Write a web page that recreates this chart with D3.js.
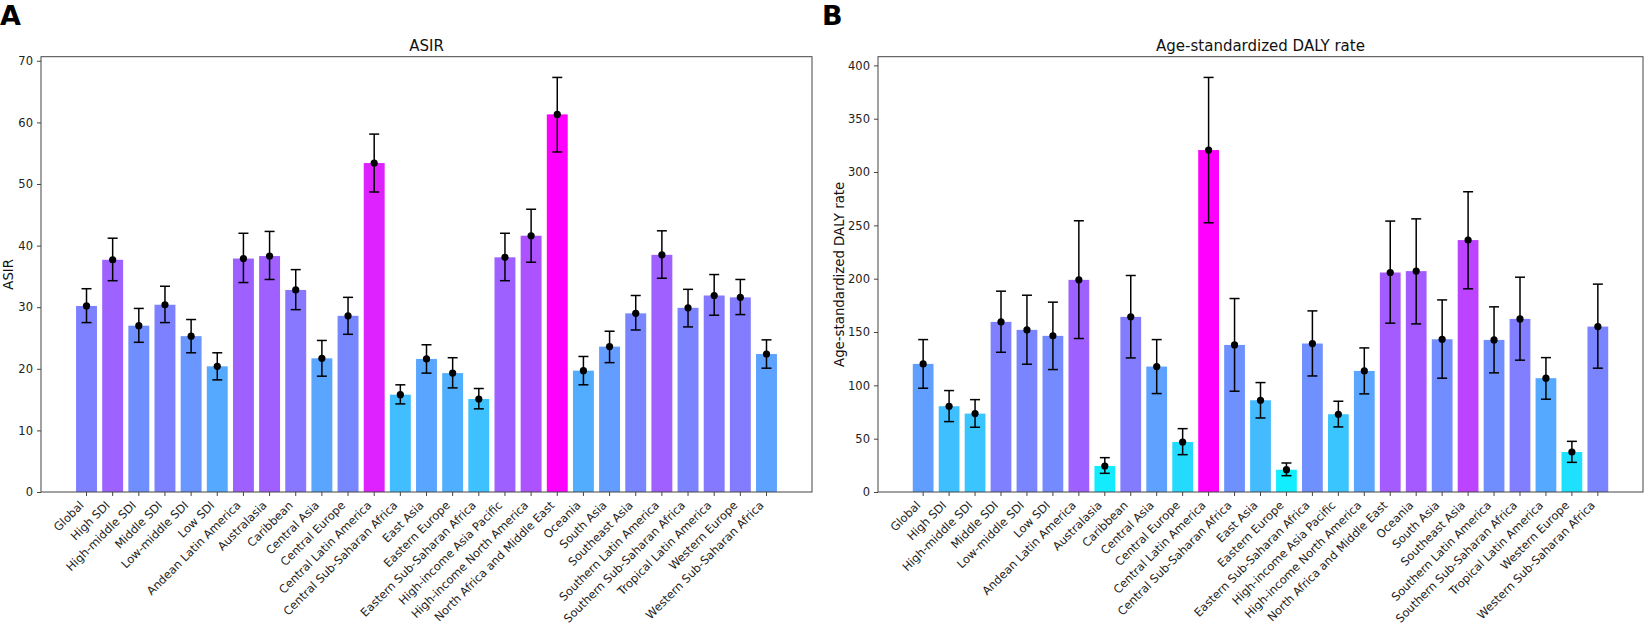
<!DOCTYPE html>
<html>
<head>
<meta charset="utf-8">
<script src="https://cdn.jsdelivr.net/npm/d3@7"></script>
<style>
  body { margin: 0; background: #fff; }
  svg { font-family: "DejaVu Sans", sans-serif; }
</style>
</head>
<body>
<div id="viz"></div>
<script>
(function() {
  var categories = ["Global", "High SDI", "High-middle SDI", "Middle SDI", "Low-middle SDI", "Low SDI",
    "Andean Latin America", "Australasia", "Caribbean", "Central Asia", "Central Europe",
    "Central Latin America", "Central Sub-Saharan Africa", "East Asia", "Eastern Europe",
    "Eastern Sub-Saharan Africa", "High-income Asia Pacific", "High-income North America",
    "North Africa and Middle East", "Oceania", "South Asia", "Southeast Asia",
    "Southern Latin America", "Southern Sub-Saharan Africa", "Tropical Latin America",
    "Western Europe", "Western Sub-Saharan Africa"];

  var asir = [30.2, 37.7, 27.0, 30.4, 25.3, 20.4, 37.9, 38.3, 32.8, 21.7, 28.6, 53.4, 15.8, 21.6,
    19.3, 15.1, 38.1, 41.6, 61.3, 19.7, 23.6, 29.0, 38.5, 29.9, 31.9, 31.6, 22.4];
  var asirLow = [27.5, 34.3, 24.3, 27.5, 22.6, 18.2, 34.0, 34.5, 29.6, 18.8, 25.6, 48.7, 14.3, 19.3,
    16.9, 13.5, 34.3, 37.3, 55.2, 17.4, 21.0, 26.3, 34.7, 26.8, 28.7, 28.8, 20.1];
  var asirHigh = [33.0, 41.2, 29.8, 33.4, 28.0, 22.6, 42.0, 42.3, 36.1, 24.6, 31.6, 58.1, 17.4, 23.9,
    21.8, 16.8, 42.0, 45.9, 67.3, 22.0, 26.1, 31.9, 42.4, 32.9, 35.3, 34.5, 24.7];

  var daly = [120.1, 80.4, 73.5, 159.5, 152.0, 146.4, 198.9, 24.4, 164.2, 117.6, 46.9, 320.6, 137.9,
    86.0, 20.9, 139.2, 72.9, 113.5, 205.8, 207.1, 143.2, 236.2, 142.6, 162.3, 106.7, 37.5, 155.1];
  var dalyLow = [97.3, 66.0, 60.7, 131.0, 119.8, 114.8, 143.9, 17.5, 125.7, 92.3, 35.0, 252.4, 94.5,
    69.4, 15.3, 108.8, 61.0, 92.0, 158.3, 157.6, 106.7, 190.5, 111.7, 123.6, 87.0, 27.8, 116.1];
  var dalyHigh = [142.9, 95.1, 86.6, 188.3, 184.5, 178.0, 254.3, 32.2, 203.0, 142.9, 59.4, 388.7, 181.4,
    102.6, 27.2, 169.8, 85.1, 135.1, 254.0, 256.1, 180.1, 281.5, 173.6, 201.4, 126.0, 47.5, 194.9];

  var asirTicks = [0, 10, 20, 30, 40, 50, 60, 70];
  var dalyTicks = [0, 50, 100, 150, 200, 250, 300, 350, 400];

  var svg = d3.select("#viz").append("svg").attr("width", 1646).attr("height", 626);

  var drawPanel = function(opts) {
    var g, x, y, color, rows, i, yMax;
    rows = [];
    for (i = 0; i < categories.length; i++) {
      rows.push({ name: categories[i], v: opts.values[i], lo: opts.low[i], hi: opts.high[i] });
    }
    yMax = d3.max(opts.high) * 1.05;

    x = d3.scaleBand().domain(categories).range([opts.left, opts.right])
      .paddingInner(0.2).paddingOuter(1.34);
    y = d3.scaleLinear().domain([0, yMax]).range([opts.bottom, opts.top]);
    color = d3.scaleLinear().domain([0, d3.max(opts.values)])
      .range(["#00ffff", "#ff00ff"]).interpolate(d3.interpolateRgb);

    g = svg.append("g");

    g.selectAll("rect.bar").data(rows).enter().append("rect")
      .attr("class", "bar")
      .attr("x", function(d) { return x(d.name); })
      .attr("y", function(d) { return y(d.v); })
      .attr("width", x.bandwidth())
      .attr("height", function(d) { return y(0) - y(d.v); })
      .style("fill", function(d) { return color(d.v); });

    var cx = function(d) { return x(d.name) + x.bandwidth() / 2; };
    var err = g.selectAll("g.err").data(rows).enter().append("g").attr("class", "err")
      .style("stroke", "#000").style("stroke-width", 1.5);
    err.append("line").attr("x1", cx).attr("x2", cx)
      .attr("y1", function(d) { return y(d.lo); }).attr("y2", function(d) { return y(d.hi); });
    err.append("line").attr("x1", function(d) { return cx(d) - 5; }).attr("x2", function(d) { return cx(d) + 5; })
      .attr("y1", function(d) { return y(d.lo); }).attr("y2", function(d) { return y(d.lo); });
    err.append("line").attr("x1", function(d) { return cx(d) - 5; }).attr("x2", function(d) { return cx(d) + 5; })
      .attr("y1", function(d) { return y(d.hi); }).attr("y2", function(d) { return y(d.hi); });
    g.selectAll("circle").data(rows).enter().append("circle")
      .attr("cx", cx).attr("cy", function(d) { return y(d.v); })
      .attr("r", 3.6).style("fill", "#000");

    // frame
    g.append("rect").attr("x", opts.left).attr("y", opts.top)
      .attr("width", opts.right - opts.left).attr("height", opts.bottom - opts.top)
      .style("fill", "none").style("stroke", "#444").style("stroke-width", 1);

    var yAxis = g.append("g").attr("transform", "translate(" + opts.left + ",0)")
      .call(d3.axisLeft(y).tickValues(opts.ticks).tickSize(4).tickPadding(4));
    yAxis.select(".domain").remove();
    yAxis.selectAll("line").style("stroke", "#444");
    yAxis.selectAll("text").style("font-size", "11.5px").style("fill", "#222")
      .style("font-family", "DejaVu Sans, sans-serif");

    var xAxis = g.append("g").attr("transform", "translate(0," + opts.bottom + ")")
      .call(d3.axisBottom(x).tickSize(4).tickPadding(0));
    xAxis.select(".domain").remove();
    xAxis.selectAll("line").style("stroke", "#444");
    xAxis.selectAll("text")
      .style("font-size", "11.5px").style("fill", "#222")
      .style("font-family", "DejaVu Sans, sans-serif")
      .attr("text-anchor", "end")
      .attr("dy", null).attr("y", null)
      .attr("transform", "translate(-2,14) rotate(-45)");

    g.append("text").attr("x", (opts.left + opts.right) / 2).attr("y", opts.top - 6)
      .attr("text-anchor", "middle").style("font-size", "15px").style("fill", "#111")
      .text(opts.title);

    g.append("text")
      .attr("transform", "translate(" + opts.ylabelX + "," + (opts.top + opts.bottom) / 2 + ") rotate(-90)")
      .attr("text-anchor", "middle").style("font-size", "13.3px").style("fill", "#111")
      .text(opts.ylabel);

    g.append("text").attr("x", opts.letterX).attr("y", 25)
      .style("font-size", "27px").style("font-weight", "bold").style("fill", "#000")
      .text(opts.letter);
  };

  drawPanel({
    values: asir, low: asirLow, high: asirHigh, ticks: asirTicks,
    left: 41, right: 812, top: 56.7, bottom: 492,
    title: "ASIR", ylabel: "ASIR", ylabelX: 13, letter: "A", letterX: 0
  });

  drawPanel({
    values: daly, low: dalyLow, high: dalyHigh, ticks: dalyTicks,
    left: 878, right: 1643, top: 56.7, bottom: 492,
    title: "Age-standardized DALY rate", ylabel: "Age-standardized DALY rate", ylabelX: 844,
    letter: "B", letterX: 822
  });
}).call(this);
</script>
</body>
</html>
